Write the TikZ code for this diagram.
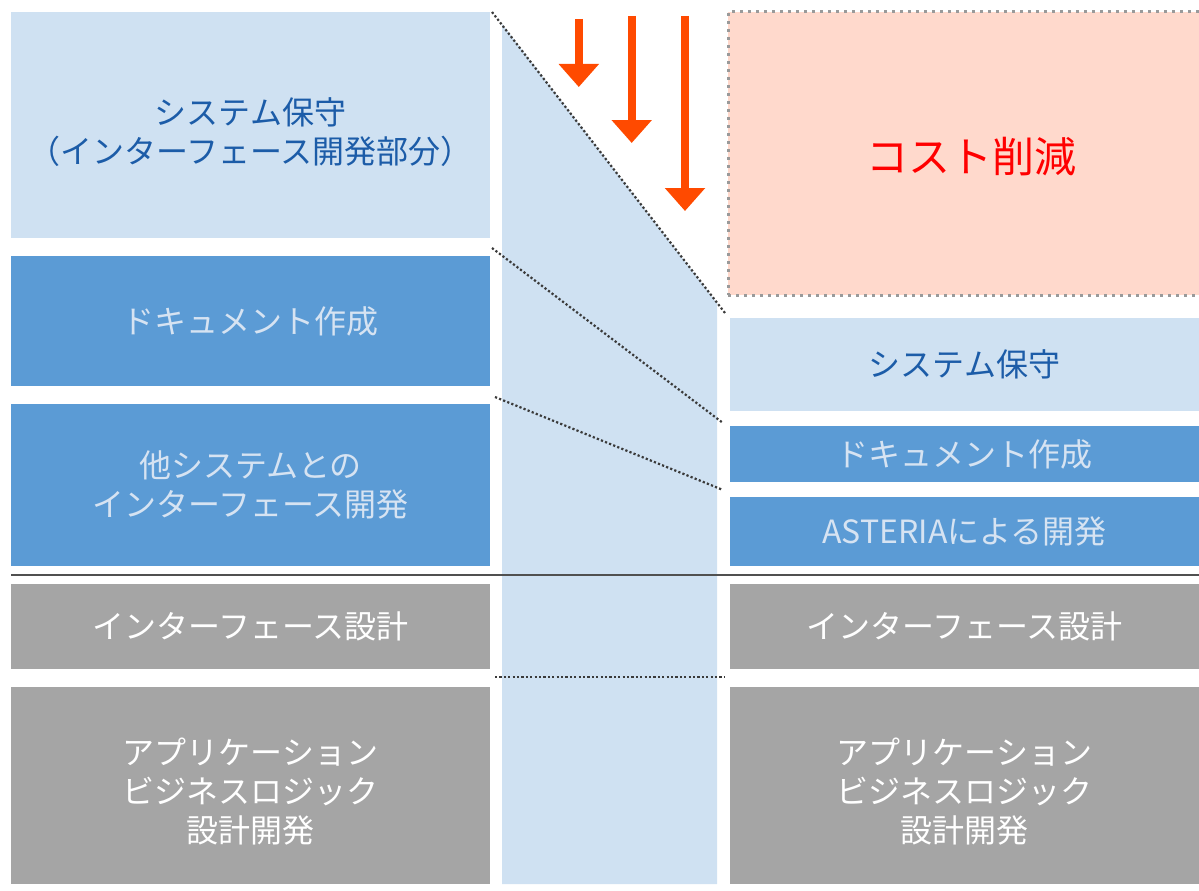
\documentclass[tikz,border=0pt]{standalone}
\usepackage{fontspec}
\setmainfont{Noto Sans CJK JP}
\usetikzlibrary{arrows.meta}

\definecolor{paleblue}{HTML}{CFE1F2}
\definecolor{midblue}{HTML}{5B9BD5}
\definecolor{inkblue}{HTML}{1C5CA8}
\definecolor{softblue}{HTML}{D6E3F2}
\definecolor{stone}{HTML}{A5A5A5}
\definecolor{salmon}{HTML}{FFD9CC}
\definecolor{flame}{HTML}{FF4A00}
\definecolor{guide}{HTML}{3A3A3A}
\definecolor{rule}{HTML}{505050}
\definecolor{frame}{HTML}{9A9A9A}

\begin{document}
\begin{tikzpicture}[x=1pt, y=-1pt,
  every node/.style={inner sep=0pt, align=center, font=\fontsize{32}{39}\selectfont},
  palebox/.style={fill=paleblue, text=inkblue},
  bluebox/.style={fill=midblue, text=softblue},
  greybox/.style={fill=stone, text=white},
  leftcol/.style={minimum width=479pt},
  rightcol/.style={minimum width=469pt},
  guideline/.style={guide, line width=2.2pt, dash pattern=on 2.2pt off 2.2pt},
  drop/.style={flame, line width=8pt, -{Triangle[width=39pt,length=23pt]}}]

\useasboundingbox (0,0) rectangle (1199,891);
\clip (0,0) rectangle (1199,891);

% middle strip
\fill [paleblue] (502,24) -- (717,303) -- (717,884) -- (502,884) -- cycle;

% left column
\node [palebox, leftcol, minimum height=226pt,
       label={[text=inkblue, yshift=-7pt]center:システム保守\\（インターフェース開発部分）}] (keepL) at (250.5,125) {};
\node [bluebox, leftcol, minimum height=130pt] (docL) at (250.5,321) {ドキュメント作成};
\node [bluebox, leftcol, minimum height=162pt] (ifL) at (250.5,485) {他システムとの\\インターフェース開発};
\node [greybox, leftcol, minimum height=85pt] (designL) at (250.5,626.5) {インターフェース設計};
\node [greybox, leftcol, minimum height=197pt,
       label={[text=white, yshift=-6pt]center:アプリケーション\\ビジネスロジック\\設計開発}] (appL) at (250.5,785.5) {};

% right column
\node [fill=salmon, draw=frame, line width=3pt, dash pattern=on 3pt off 5pt,
       minimum width=486pt, minimum height=283pt,
       label={[text=red, yshift=-3pt, font=\fontsize{42}{50}\selectfont]center:コスト削減}] (cut) at (971,153.5) {};
\node [palebox, rightcol, minimum height=93pt] (keepR) at (964.5,364.5) {システム保守};
\node [bluebox, rightcol, minimum height=56pt] (docR) at (964.5,454) {ドキュメント作成};
\node [bluebox, rightcol, minimum height=69pt] (asteriaR) at (964.5,531.5) {ASTERIAによる開発};
\node [greybox, rightcol, minimum height=85pt] (designR) at (964.5,626.5) {インターフェース設計};
\node [greybox, rightcol, minimum height=197pt,
       label={[text=white, yshift=-6pt]center:アプリケーション\\ビジネスロジック\\設計開発}] (appR) at (964.5,785.5) {};

% separator
\draw [rule, line width=2pt] (11,574.5) -- (1199,574.5);

% guide lines
\coordinate (g1a) at (492,12);   \coordinate (g1b) at (725,313);
\coordinate (g2a) at (492,248);  \coordinate (g2b) at (723,423);
\coordinate (g3a) at (495,397);  \coordinate (g3b) at (723,490);
\coordinate (g4a) at (495,677);  \coordinate (g4b) at (725,677);
\draw [guideline] (g1a) -- (g1b);
\draw [guideline] (g2a) -- (g2b);
\draw [guideline] (g3a) -- (g3b);
\draw [guideline] (g4a) -- (g4b);

% arrows
\draw [drop] (578.8,19) -- (578.8,87);
\draw [drop] (631.7,16) -- (631.7,143);
\draw [drop] (685,16) -- (685,211);
\end{tikzpicture}
\end{document}
